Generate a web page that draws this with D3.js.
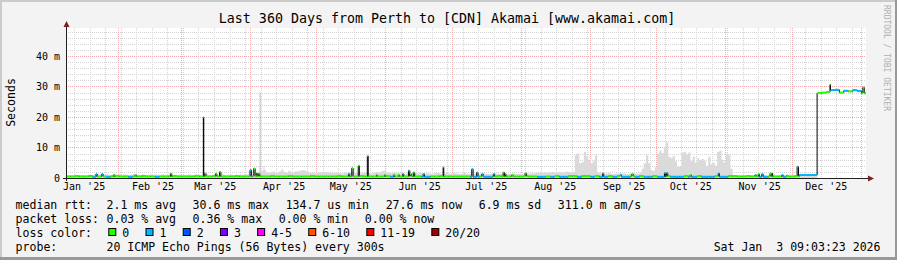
<!DOCTYPE html>
<html>
<head>
<meta charset="utf-8">
<script src="https://cdn.jsdelivr.net/npm/d3@7"></script>
<style>
    html, body { margin: 0; padding: 0; background: #f3f3f3; }
    svg { display: block; font-family: "DejaVu Sans Mono", monospace; }
</style>
</head>
<body>
<div id="chart"></div>
<script>
// time window: last 360 days ending at the graph time
const startTime = new Date(Date.UTC(2025, 0, 8, 9, 3, 23));
const endTime = new Date(Date.UTC(2026, 0, 3, 9, 3, 23));
const binDays = 2;

// median rtt (ms) per 2-day bin
const medianMs = [
    0.5, 0.5, 0.6, 0.5, 0.5, 0.6, 0.4, 0.5, 0.5, 0.4,
    0.5, 0.6, 0.5, 0.5, 0.4, 0.5, 0.5, 0.6, 0.5, 0.5,
    0.4, 0.5, 0.5, 0.5, 0.6, 0.5, 0.5, 0.5, 0.5, 0.6,
    0.5, 0.5, 0.5, 0.6, 0.5, 0.5, 0.5, 0.5, 0.6, 0.5,
    0.5, 0.5, 0.6, 0.6, 0.5, 0.5, 0.6, 0.5, 0.5, 0.5,
    0.6, 0.5, 0.5, 0.5, 0.5, 0.6, 0.5, 0.5, 0.5, 0.5,
    0.5, 0.6, 0.5, 0.5, 0.5, 0.5, 0.6, 0.5, 0.5, 0.5,
    0.5, 0.5, 0.6, 0.4, 0.5, 0.5, 0.5, 0.6, 0.5, 0.5,
    0.4, 0.4, 0.5, 0.5, 0.6, 0.5, 0.5, 0.5, 0.5, 0.5,
    0.5, 0.4, 0.4, 0.5, 0.4, 0.4, 0.5, 0.6, 0.5, 0.5,
    0.5, 0.5, 0.5, 0.6, 0.5, 0.5, 0.4, 0.4, 0.5, 0.4,
    0.6, 0.4, 0.4, 0.6, 0.6, 0.4, 0.6, 0.6, 0.4, 0.6,
    0.4, 0.4, 0.6, 0.4, 0.6, 0.4, 0.4, 0.6, 0.4, 0.6,
    0.4, 0.4, 0.6, 0.4, 0.4, 0.6, 0.4, 0.4, 0.4, 0.6,
    0.4, 0.4, 0.6, 0.4, 0.4, 0.4, 0.6, 0.4, 0.4, 0.6,
    0.6, 0.5, 0.5, 0.6, 0.5, 0.5, 0.4, 0.4, 0.5, 0.5,
    0.5, 0.4, 0.5, 0.5, 0.6, 1.0, 1.0, 1.0, 1.0, 27.8,
    28.0, 28.2, 28.8, 28.9, 28.0, 28.6, 28.4, 28.8, 28.5, 27.8
];

// lost pings per 2-day bin (index into lossColors)
const lossBin = [
    0, 0, 0, 0, 0, 0, 1, 0, 0, 1,
    0, 0, 0, 0, 1, 0, 0, 0, 0, 0,
    1, 0, 0, 0, 0, 0, 0, 0, 0, 0,
    0, 0, 0, 0, 0, 0, 0, 0, 0, 0,
    0, 0, 0, 0, 0, 0, 0, 0, 0, 0,
    0, 0, 0, 0, 0, 0, 0, 0, 0, 0,
    0, 0, 0, 0, 0, 0, 0, 0, 0, 0,
    0, 0, 0, 1, 0, 0, 0, 0, 0, 0,
    1, 1, 0, 0, 0, 0, 0, 0, 0, 0,
    0, 1, 1, 0, 1, 1, 0, 0, 0, 0,
    0, 0, 0, 0, 0, 0, 1, 1, 0, 1,
    0, 1, 1, 0, 0, 1, 0, 0, 1, 0,
    1, 1, 0, 1, 0, 1, 1, 0, 1, 0,
    1, 1, 0, 1, 1, 0, 1, 1, 1, 0,
    1, 1, 0, 1, 1, 1, 0, 1, 1, 0,
    0, 0, 0, 0, 0, 0, 1, 1, 0, 0,
    0, 1, 0, 0, 0, 1, 1, 1, 1, 0,
    0, 0, 1, 1, 0, 1, 0, 1, 1, 0
];

// top of the smoke (ms) per day
const smokeMs = [
    0.8, 0.9, 0.9, 0.8, 1.0, 0.8, 0.9, 1.0, 0.8, 0.9, 1.0, 0.9, 1.1, 1.2, 1.2, 1.1, 1.0, 1.1, 1.2, 1.0,
    1.1, 1.0, 1.2, 1.1, 1.3, 1.0, 1.2, 1.1, 1.0, 1.1, 1.2, 1.0, 1.1, 1.0, 1.2, 1.1, 1.0, 1.1, 1.3, 1.0,
    1.2, 1.1, 1.0, 1.2, 1.1, 1.0, 1.2, 1.1, 1.0, 1.1, 1.0, 1.2, 1.1, 1.0, 1.1, 1.2, 1.0, 1.1, 1.3, 1.1,
    1.0, 1.1, 1.2, 1.3, 1.1, 1.0, 1.1, 1.2, 1.0, 1.1, 1.2, 1.1, 1.0, 1.1, 1.2, 1.0, 1.1, 1.0, 1.2, 1.1,
    1.3, 1.2, 1.2, 1.4, 1.4, 1.5, 1.8, 1.7, 2.4, 2.6, 1.8, 1.7, 2.0, 2.1, 1.7, 1.8, 2.2, 2.4, 1.9, 1.7,
    2.4, 2.0, 1.8, 2.2, 2.1, 2.4, 2.6, 2.5, 2.2, 1.9, 1.6, 1.7, 1.5, 1.6, 1.9, 1.8, 2.0, 1.9, 1.7, 1.6,
    1.6, 1.7, 1.8, 1.6, 1.5, 1.6, 1.7, 1.8, 1.9, 1.6, 1.6, 1.5, 1.5, 1.7, 1.8, 1.6, 1.6, 1.5, 1.7, 1.8,
    2.0, 1.8, 2.4, 2.3, 1.9, 1.8, 1.6, 1.7, 1.8, 1.6, 1.5, 1.6, 1.4, 1.5, 1.6, 1.7, 1.5, 1.6, 1.5, 1.7,
    1.5, 1.4, 1.6, 1.5, 1.4, 1.5, 1.7, 1.6, 1.5, 1.4, 1.5, 1.6, 1.4, 1.5, 1.6, 1.5, 1.4, 1.3, 1.5, 1.6,
    1.3, 1.4, 1.5, 1.3, 1.4, 1.5, 1.3, 1.4, 1.5, 1.4, 1.3, 1.4, 1.3, 1.5, 1.4, 1.3, 1.4, 1.5, 1.3, 1.4,
    1.4, 1.5, 1.3, 1.4, 1.5, 1.4, 1.6, 1.5, 1.4, 1.6, 1.5, 1.7, 1.6, 1.8, 1.7, 1.6, 1.8, 1.9, 1.8, 2.0,
    1.7, 1.9, 2.0, 1.8, 1.9, 2.1, 2.0, 1.9, 2.0, 7.5, 8.1, 4.8, 5.2, 8.6, 7.2, 6.0, 4.8, 5.5, 7.5, 2.0,
    1.6, 1.5, 1.4, 1.5, 1.6, 1.4, 1.3, 1.5, 1.4, 1.6, 1.5, 1.4, 1.3, 1.5, 1.4, 1.6, 1.5, 1.4, 1.8, 3.0,
    4.8, 7.5, 4.8, 2.6, 2.4, 3.5, 8.0, 9.0, 8.2, 10.0, 11.6, 7.0, 6.5, 7.2, 5.5, 3.7, 3.7, 8.3, 8.6, 7.8,
    8.4, 5.5, 7.0, 5.0, 6.5, 5.8, 6.2, 5.5, 4.0, 7.0, 4.5, 5.0, 4.0, 8.5, 9.0, 6.0, 5.0, 8.0, 7.5, 3.0,
    1.0, 0.9, 1.0, 0.8, 0.9, 1.0, 0.8, 0.9, 1.0, 0.9, 1.0, 0.9, 0.8, 0.9, 1.0, 0.8, 0.9, 1.0, 0.9, 0.8,
    0.9, 1.0, 0.8, 0.9, 1.0, 0.9, 0.8, 1.0, 0.9, 1.0, 1.2, 1.3, 1.2, 1.3, 1.2, 1.3, 1.2, 1.3, 0, 0,
    0, 0, 0, 0, 0, 0, 0, 0, 0, 0, 0, 0, 0, 0, 0, 0, 0, 0, 0, 0
];

// short median spikes: day offset from start, value (ms), loss index
const spikeDay = [13.5, 16.1, 21.3, 31.0, 47.0, 61.8, 62.4, 67.3, 69.1, 82.8,
    84.5, 85.8, 86.6, 127.1, 128.6, 131.5, 135.6, 139.8, 143.3, 147.3,
    149.5, 151.5, 154.1, 154.8, 156.3, 160.7, 169.7, 182.6, 184.8, 187.1,
    192.3, 196.7, 197.6, 200.6, 206.6, 241.5, 249.3, 254.6, 269.3, 270.2,
    280.8, 293.5, 310.0, 311.5, 313.1, 316.8, 317.9, 322.1, 324.3, 329.0,
    343.8, 358.6];
const spikeMs = [1.3, 1.3, 1.0, 1.0, 1.4, 19.9, 1.5, 1.4, 2.0, 2.6,
    3.1, 1.5, 1.4, 1.3, 3.2, 4.0, 7.2, 1.0, 1.0, 1.0,
    1.0, 1.3, 2.4, 1.3, 1.8, 1.3, 3.5, 2.9, 1.8, 1.3,
    1.3, 1.8, 1.3, 1.0, 1.5, 1.5, 1.0, 1.3, 1.6, 1.6,
    1.0, 1.5, 1.0, 1.3, 1.3, 1.5, 1.5, 1.0, 0.8, 3.7,
    30.6, 29.7];
const spikeLoss = [1, 1, 0, 0, 0, 0, 0, 0, 0, 1,
    0, 0, 0, 1, 0, 0, 0, 0, 0, 0,
    0, 1, 1, 0, 0, 1, 0, 1, 1, 1,
    1, 0, 1, 0, 0, 0, 1, 0, 1, 1,
    0, 1, 1, 0, 1, 0, 0, 1, 0, 1,
    0, 0];

// thin smoke peaks
const smokeSpikeDay = [87.1, 88.8, 97.1];
const smokeSpikeMs = [28.0, 3.9, 3.0];

const lossLabels = ["0", "1", "2", "3", "4-5", "6-10", "11-19", "20/20"];
const lossColors = ["#26ff00", "#00b8ff", "#0059ff", "#7e00ff", "#ff00ff", "#ff5500", "#ff0000", "#a10000"];
const yTicks = [0, 10, 20, 30, 40];

const rttStats = ["2.1 ms avg", "30.6 ms max", "134.7 us min", "27.6 ms now", "6.9 ms sd", "311.0 m am/s"];
const lossStats = ["0.03 % avg", "0.36 % max", "0.00 % min", "0.00 % now"];

const width = 897;
const height = 260;
const plot = { left: 66, right: 866, top: 28, bottom: 178 };
const DAY = 864e5;
const font = "DejaVu Sans Mono";

const x = d3.scaleUtc().domain([startTime, endTime]).range([plot.left, plot.right]);
const y = d3.scaleLinear().domain([0, 49.18]).range([plot.bottom, plot.top]);

const dayToTime = (d) => new Date(+startTime + d * DAY);

const svg = d3.select("#chart").append("svg")
    .attr("width", width)
    .attr("height", height)
    .attr("viewBox", `0 0 ${width} ${height}`);

// background and 3d frame
svg.append("rect").attr("width", width).attr("height", height).attr("fill", "#f3f3f3");
svg.append("rect").attr("x", 0).attr("y", 0).attr("width", width).attr("height", 2).attr("fill", "#cbcbcb");
svg.append("rect").attr("x", 0).attr("y", 0).attr("width", 2).attr("height", height).attr("fill", "#cbcbcb");
svg.append("rect").attr("x", 0).attr("y", height - 3).attr("width", width).attr("height", 3).attr("fill", "#999999");
svg.append("rect").attr("x", width - 2).attr("y", 0).attr("width", 2).attr("height", height).attr("fill", "#999999");

// canvas
svg.append("rect")
    .attr("x", plot.left).attr("y", plot.top)
    .attr("width", plot.right - plot.left).attr("height", plot.bottom - plot.top)
    .attr("fill", "#ffffff");

svg.append("clipPath").attr("id", "clip")
    .append("rect")
    .attr("x", plot.left).attr("y", plot.top)
    .attr("width", plot.right - plot.left).attr("height", plot.bottom - plot.top);

// grid
const grid = svg.append("g").attr("shape-rendering", "crispEdges");
const minorY = d3.range(2, 49, 2).filter((v) => v % 10 !== 0);
const weeks = d3.utcSunday.range(startTime, endTime);
const months = d3.utcMonth.range(startTime, endTime);
const minorColor = "#d4d4d4";
const majorColor = "#f3aaaa";

grid.selectAll("line.minor-y").data(minorY).enter().append("line")
    .attr("x1", plot.left).attr("x2", plot.right)
    .attr("y1", (d) => Math.round(y(d)) + 0.5).attr("y2", (d) => Math.round(y(d)) + 0.5)
    .attr("stroke", minorColor).attr("stroke-dasharray", "1,1");
grid.selectAll("line.minor-x").data(weeks).enter().append("line")
    .attr("x1", (d) => Math.round(x(d)) + 0.5).attr("x2", (d) => Math.round(x(d)) + 0.5)
    .attr("y1", plot.top).attr("y2", plot.bottom)
    .attr("stroke", minorColor).attr("stroke-dasharray", "1,1");
grid.selectAll("line.major-y").data(yTicks.slice(1)).enter().append("line")
    .attr("x1", plot.left).attr("x2", plot.right)
    .attr("y1", (d) => Math.round(y(d)) + 0.5).attr("y2", (d) => Math.round(y(d)) + 0.5)
    .attr("stroke", majorColor).attr("stroke-dasharray", "1,1");
grid.selectAll("line.major-x").data(months).enter().append("line")
    .attr("x1", (d) => Math.round(x(d)) + 0.5).attr("x2", (d) => Math.round(x(d)) + 0.5)
    .attr("y1", plot.top).attr("y2", plot.bottom)
    .attr("stroke", majorColor).attr("stroke-dasharray", "1,1");

const chart = svg.append("g").attr("clip-path", "url(#clip)");

// smoke
const smokePts = smokeMs.map((v, i) => ({ t: dayToTime(i), v }));
smokePts.push({ t: endTime, v: smokeMs[smokeMs.length - 1] });
chart.append("path")
    .datum(smokePts)
    .attr("fill", "#dadada")
    .attr("d", d3.area().curve(d3.curveStepAfter)
        .x((d) => x(d.t)).y0(y(0)).y1((d) => y(d.v)));

chart.selectAll("rect.smoke-spike")
    .data(smokeSpikeDay.map((d, i) => ({ t: dayToTime(d), v: smokeSpikeMs[i] })))
    .enter().append("rect")
    .attr("x", (d) => x(d.t))
    .attr("width", 1.2)
    .attr("y", (d) => y(d.v))
    .attr("height", (d) => y(0) - y(d.v))
    .attr("fill", (d) => d.v > 10 ? "#c4c4c4" : "#dadada");

// median: merge bins and spikes into one step series
const events = medianMs.map((v, i) => ({ t: +dayToTime(i * binDays), v, loss: lossBin[i] }));
spikeDay.forEach((d, i) => {
    const bin = Math.min(medianMs.length - 1, Math.floor((d + 0.6) / binDays));
    events.push({ t: +dayToTime(d), v: spikeMs[i], loss: spikeLoss[i] });
    events.push({ t: +dayToTime(d + 0.6), v: medianMs[bin], loss: lossBin[bin] });
});
events.sort((a, b) => a.t - b.t);
events.push({ t: +endTime, v: events[events.length - 1].v, loss: events[events.length - 1].loss });

chart.append("path")
    .datum(events)
    .attr("fill", "none")
    .attr("stroke", "#000000")
    .attr("stroke-width", 1)
    .attr("d", d3.line().curve(d3.curveStepAfter).x((d) => x(d.t)).y((d) => y(d.v)));

const segs = events.slice(0, -1).map((d, i) => ({ t0: d.t, t1: events[i + 1].t, v: d.v, loss: d.loss }));
chart.selectAll("line.seg").data(segs).enter().append("line")
    .attr("x1", (d) => x(d.t0)).attr("x2", (d) => x(d.t1))
    .attr("y1", (d) => y(d.v)).attr("y2", (d) => y(d.v))
    .attr("stroke", (d) => lossColors[d.loss])
    .attr("stroke-width", 2);

// axes lines and arrows
const axisColor = "#1f1f1f";
const arrowColor = "#7f1f1f";
svg.append("line")
    .attr("x1", plot.left - 3).attr("x2", plot.right + 3)
    .attr("y1", plot.bottom + 0.5).attr("y2", plot.bottom + 0.5)
    .attr("stroke", axisColor);
svg.append("line")
    .attr("x1", plot.left + 0.5).attr("x2", plot.left + 0.5)
    .attr("y1", plot.bottom + 3).attr("y2", plot.top - 2)
    .attr("stroke", axisColor);
svg.append("path")
    .attr("d", `M${plot.right + 2},${plot.bottom - 2.5}L${plot.right + 8},${plot.bottom + 0.5}L${plot.right + 2},${plot.bottom + 3.5}Z`)
    .attr("fill", arrowColor);
svg.append("path")
    .attr("d", `M${plot.left - 2.5},${plot.top - 1}L${plot.left + 0.5},${plot.top - 7}L${plot.left + 3.5},${plot.top - 1}Z`)
    .attr("fill", arrowColor);

// tick labels through d3 axes
const monthLabels = d3.utcMonth.range(d3.utcMonth.floor(startTime), endTime)
    .map((m) => new Date(+m + 15.3 * DAY))
    .filter((d) => d < endTime);

const xAxis = svg.append("g")
    .attr("transform", `translate(0,${plot.bottom})`)
    .call(d3.axisBottom(x).tickValues(monthLabels)
        .tickFormat(d3.utcFormat("%b '%y")).tickSize(0).tickPadding(5));
xAxis.select(".domain").remove();
xAxis.attr("font-family", font).attr("font-size", 10);
xAxis.selectAll("text").attr("fill", "#000");

const yAxis = svg.append("g")
    .attr("transform", `translate(${plot.left},0)`)
    .call(d3.axisLeft(y).tickValues(yTicks)
        .tickFormat((d) => d === 0 ? "0" : `${d} m`).tickSize(0).tickPadding(6));
yAxis.select(".domain").remove();
yAxis.attr("font-family", font).attr("font-size", 10);
yAxis.selectAll("text").attr("fill", "#000");

// title, unit, watermark
svg.append("text")
    .attr("x", 447).attr("y", 23)
    .attr("text-anchor", "middle")
    .attr("font-size", 13.3)
    .text("Last 360 Days from Perth to [CDN] Akamai [www.akamai.com]");

svg.append("text")
    .attr("transform", "translate(15,102.5) rotate(-90)")
    .attr("text-anchor", "middle")
    .attr("font-size", 11.55)
    .text("Seconds");

svg.append("text")
    .attr("transform", "translate(884,5) rotate(90)")
    .attr("font-size", 8)
    .attr("fill", "#b0b0b0")
    .text("RRDTOOL / TOBI OETIKER");

// legend
const adv = 6.95;
const gap = 16.6;
const col2 = 106.5;
const legend = svg.append("g").attr("font-size", 11.55).attr("fill", "#000");

function addText(tx, ty, s) {
    return legend.append("text")
        .attr("xml:space", "preserve")
        .attr("x", tx).attr("y", ty)
        .text(s);
}

function row(label, items, baseline) {
    addText(15.6, baseline, label);
    let cx = col2;
    items.forEach((s) => {
        addText(cx, baseline, s);
        cx += s.length * adv + gap;
    });
}
row("median rtt:", rttStats, 208.5);
row("packet loss:", lossStats, 222.5);
row("loss color:", [], 236.5);
row("probe:", ["20 ICMP Echo Pings (56 Bytes) every 300s"], 250.5);

let bx = 108.3;
lossLabels.forEach((lab, i) => {
    legend.append("rect")
        .attr("x", bx + 0.5).attr("y", 228.5)
        .attr("width", 7).attr("height", 7)
        .attr("fill", lossColors[i])
        .attr("stroke", "#000").attr("stroke-width", 1);
    addText(bx + 14, 236.5, lab);
    bx += 14 + lab.length * adv + 16.26;
});

addText(880.5, 250.5, "Sat Jan  3 09:03:23 2026")
    .attr("text-anchor", "end");
</script>
</body>
</html>
